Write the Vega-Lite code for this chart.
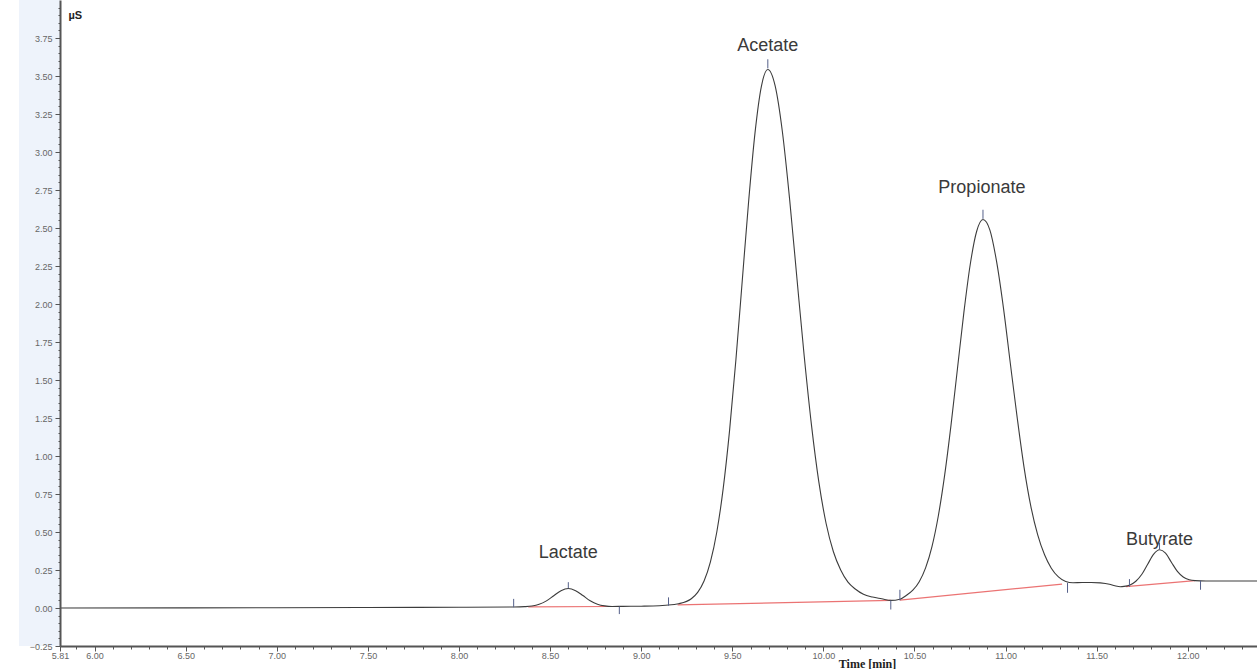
{
  "$schema": "https://vega.github.io/schema/vega-lite/v6.json",
  "width": 1197,
  "height": 646,
  "autosize": "none",
  "padding": {"left": 60, "top": 0, "right": 0, "bottom": 23},
  "background": "white",
  "config": {"view": {"stroke": null}, "font": "Liberation Sans"},
  "datasets": {
    "panel": [{"t": 5.585, "t2": 5.81, "v": -0.25, "v2": 4.0}],
    "signal": [
      {"t": 5.81, "v": 0.0}, {"t": 6.5, "v": 0.001}, {"t": 7.0, "v": 0.002}, {"t": 7.5, "v": 0.003},
      {"t": 8.0, "v": 0.005}, {"t": 8.3, "v": 0.007}, {"t": 8.36, "v": 0.009}, {"t": 8.4, "v": 0.013},
      {"t": 8.44, "v": 0.024}, {"t": 8.48, "v": 0.047}, {"t": 8.52, "v": 0.081}, {"t": 8.56, "v": 0.114},
      {"t": 8.6, "v": 0.128}, {"t": 8.64, "v": 0.114}, {"t": 8.68, "v": 0.082}, {"t": 8.72, "v": 0.048},
      {"t": 8.76, "v": 0.025}, {"t": 8.8, "v": 0.014}, {"t": 8.84, "v": 0.01}, {"t": 8.9, "v": 0.011},
      {"t": 9.0, "v": 0.012}, {"t": 9.1, "v": 0.015}, {"t": 9.135, "v": 0.018}, {"t": 9.205, "v": 0.028},
      {"t": 9.275, "v": 0.061}, {"t": 9.31, "v": 0.103}, {"t": 9.345, "v": 0.178}, {"t": 9.38, "v": 0.304},
      {"t": 9.415, "v": 0.5}, {"t": 9.45, "v": 0.785}, {"t": 9.485, "v": 1.167}, {"t": 9.52, "v": 1.635},
      {"t": 9.555, "v": 2.158}, {"t": 9.59, "v": 2.679}, {"t": 9.625, "v": 3.129}, {"t": 9.66, "v": 3.434},
      {"t": 9.695, "v": 3.543}, {"t": 9.735, "v": 3.436}, {"t": 9.775, "v": 3.133}, {"t": 9.815, "v": 2.685},
      {"t": 9.855, "v": 2.166}, {"t": 9.895, "v": 1.655}, {"t": 9.935, "v": 1.2}, {"t": 9.975, "v": 0.83},
      {"t": 10.015, "v": 0.556}, {"t": 10.055, "v": 0.37}, {"t": 10.095, "v": 0.25}, {"t": 10.135, "v": 0.17},
      {"t": 10.175, "v": 0.125}, {"t": 10.22, "v": 0.09}, {"t": 10.27, "v": 0.072}, {"t": 10.32, "v": 0.061},
      {"t": 10.37, "v": 0.05}, {"t": 10.42, "v": 0.058}, {"t": 10.456, "v": 0.084}, {"t": 10.491, "v": 0.117},
      {"t": 10.526, "v": 0.173}, {"t": 10.561, "v": 0.264}, {"t": 10.596, "v": 0.404}, {"t": 10.631, "v": 0.607},
      {"t": 10.666, "v": 0.877}, {"t": 10.701, "v": 1.208}, {"t": 10.736, "v": 1.576}, {"t": 10.771, "v": 1.943},
      {"t": 10.806, "v": 2.26}, {"t": 10.841, "v": 2.477}, {"t": 10.876, "v": 2.556}, {"t": 10.914, "v": 2.486},
      {"t": 10.951, "v": 2.277}, {"t": 10.989, "v": 1.968}, {"t": 11.026, "v": 1.61}, {"t": 11.064, "v": 1.25},
      {"t": 11.101, "v": 0.929}, {"t": 11.139, "v": 0.667}, {"t": 11.176, "v": 0.483}, {"t": 11.214, "v": 0.35},
      {"t": 11.251, "v": 0.262}, {"t": 11.29, "v": 0.205}, {"t": 11.33, "v": 0.175}, {"t": 11.37, "v": 0.166},
      {"t": 11.42, "v": 0.168}, {"t": 11.47, "v": 0.168}, {"t": 11.52, "v": 0.165}, {"t": 11.57, "v": 0.156},
      {"t": 11.6, "v": 0.146}, {"t": 11.63, "v": 0.14}, {"t": 11.65, "v": 0.142}, {"t": 11.683, "v": 0.152},
      {"t": 11.715, "v": 0.176}, {"t": 11.748, "v": 0.222}, {"t": 11.78, "v": 0.288}, {"t": 11.813, "v": 0.354},
      {"t": 11.845, "v": 0.383}, {"t": 11.878, "v": 0.361}, {"t": 11.91, "v": 0.301}, {"t": 11.943, "v": 0.241},
      {"t": 11.975, "v": 0.204}, {"t": 12.008, "v": 0.186}, {"t": 12.04, "v": 0.18}, {"t": 12.1, "v": 0.178},
      {"t": 12.38, "v": 0.178}
    ],
    "baseline": [
      {"peak": "Lactate", "t": 8.38, "v": 0.008}, {"peak": "Lactate", "t": 8.82, "v": 0.01},
      {"peak": "Acetate", "t": 9.2, "v": 0.02}, {"peak": "Acetate", "t": 10.37, "v": 0.05},
      {"peak": "Propionate", "t": 10.42, "v": 0.052}, {"peak": "Propionate", "t": 11.31, "v": 0.157},
      {"peak": "Butyrate", "t": 11.66, "v": 0.14}, {"peak": "Butyrate", "t": 12.04, "v": 0.18}
    ],
    "markers": [
      {"t": 8.3, "v": 0.005, "v2": 0.06}, {"t": 8.6, "v": 0.13, "v2": 0.17}, {"t": 8.88, "v": -0.04, "v2": 0.01},
      {"t": 9.15, "v": 0.015, "v2": 0.07}, {"t": 9.695, "v": 3.55, "v2": 3.61}, {"t": 10.37, "v": -0.01, "v2": 0.05},
      {"t": 10.42, "v": 0.05, "v2": 0.12}, {"t": 10.876, "v": 2.56, "v2": 2.62}, {"t": 11.34, "v": 0.1, "v2": 0.165},
      {"t": 11.68, "v": 0.14, "v2": 0.19}, {"t": 11.845, "v": 0.385, "v2": 0.43}, {"t": 12.07, "v": 0.12, "v2": 0.18}
    ],
    "labels": [
      {"name": "Lactate", "t": 8.6, "v": 0.36},
      {"name": "Acetate", "t": 9.695, "v": 3.7},
      {"name": "Propionate", "t": 10.87, "v": 2.76},
      {"name": "Butyrate", "t": 11.845, "v": 0.45}
    ]
  },
  "encoding": {
    "x": {
      "field": "t", "type": "quantitative",
      "scale": {"domain": [5.81, 12.38], "nice": false, "zero": false},
      "axis": {
        "zindex": 1,
        "grid": false,
        "title": "Time [min]",
        "titleFont": "Liberation Serif", "titleFontWeight": "bold", "titleFontSize": 12, "titleColor": "#222",
        "titleX": 807, "titleY": 12, "titleAlign": "center", "titleBaseline": "top",
        "values": [5.81, 5.9, 6.0, 6.1, 6.2, 6.3, 6.4, 6.5, 6.6, 6.7, 6.8, 6.9, 7.0, 7.1, 7.2, 7.3, 7.4, 7.5, 7.6, 7.7, 7.8, 7.9, 8.0, 8.1, 8.2, 8.3, 8.4, 8.5, 8.6, 8.7, 8.8, 8.9, 9.0, 9.1, 9.2, 9.3, 9.4, 9.5, 9.6, 9.7, 9.8, 9.9, 10.0, 10.1, 10.2, 10.3, 10.4, 10.5, 10.6, 10.7, 10.8, 10.9, 11.0, 11.1, 11.2, 11.3, 11.4, 11.5, 11.6, 11.7, 11.8, 11.9, 12.0, 12.1, 12.2, 12.3],
        "labelExpr": "(abs(datum.value*2 - round(datum.value*2)) < 0.001 || datum.value < 5.85) ? format(datum.value, '.2f') : ''",
        "labelFlush": false, "labelOverlap": false,
        "labelFontSize": 9, "labelColor": "#666", "labelPadding": 0,
        "tickSize": {"condition": {"test": "abs(datum.value*2 - round(datum.value*2)) < 0.001 || datum.value < 5.85", "value": 5}, "value": 3},
        "tickColor": "#555", "domainColor": "#555", "domainWidth": 2
      }
    },
    "y": {
      "field": "v", "type": "quantitative",
      "scale": {"domain": [-0.25, 4.0], "nice": false, "zero": false},
      "axis": {
        "zindex": 1,
        "grid": false,
        "title": "µS", "titleAngle": 0, "titleX": 8, "titleY": 15, "titleAlign": "left", "titleBaseline": "middle",
        "titleFontSize": 11, "titleFontWeight": "bold", "titleColor": "#222",
        "values": [-0.25, -0.2, -0.15, -0.1, -0.05, 0, 0.05, 0.1, 0.15, 0.2, 0.25, 0.3, 0.35, 0.4, 0.45, 0.5, 0.55, 0.6, 0.65, 0.7, 0.75, 0.8, 0.85, 0.9, 0.95, 1.0, 1.05, 1.1, 1.15, 1.2, 1.25, 1.3, 1.35, 1.4, 1.45, 1.5, 1.55, 1.6, 1.65, 1.7, 1.75, 1.8, 1.85, 1.9, 1.95, 2.0, 2.05, 2.1, 2.15, 2.2, 2.25, 2.3, 2.35, 2.4, 2.45, 2.5, 2.55, 2.6, 2.65, 2.7, 2.75, 2.8, 2.85, 2.9, 2.95, 3.0, 3.05, 3.1, 3.15, 3.2, 3.25, 3.3, 3.35, 3.4, 3.45, 3.5, 3.55, 3.6, 3.65, 3.7, 3.75, 3.8, 3.85, 3.9, 3.95],
        "labelExpr": "abs(datum.value*4 - round(datum.value*4)) < 0.001 ? format(datum.value, '.2f') : ''",
        "labelOverlap": false, "labelFlush": false,
        "labelFontSize": 9, "labelColor": "#666", "labelPadding": 3,
        "tickSize": {"condition": {"test": "abs(datum.value*4 - round(datum.value*4)) < 0.001", "value": 5}, "value": 2},
        "tickColor": "#555", "domainColor": "#555", "domainWidth": 2
      }
    }
  },
  "layer": [
    {
      "data": {"name": "panel"},
      "mark": {"type": "rect", "color": "#eef3fb"},
      "encoding": {"x2": {"field": "t2"}, "y2": {"field": "v2"}}
    },
    {
      "data": {"name": "baseline"},
      "mark": {"type": "line", "color": "#e85a5a", "strokeWidth": 1.2, "opacity": 0.85},
      "encoding": {"detail": {"field": "peak", "type": "nominal"}}
    },
    {
      "data": {"name": "signal"},
      "mark": {"type": "line", "color": "#3c3c3c", "strokeWidth": 1.1, "interpolate": "monotone"},
      "encoding": {}
    },
    {
      "data": {"name": "markers"},
      "mark": {"type": "rule", "color": "#55608a", "strokeWidth": 1},
      "encoding": {"y2": {"field": "v2"}}
    },
    {
      "data": {"name": "labels"},
      "mark": {"type": "text", "fontSize": 18, "color": "#3a3a3a", "baseline": "middle", "align": "center"},
      "encoding": {"text": {"field": "name", "type": "nominal"}}
    }
  ]
}
